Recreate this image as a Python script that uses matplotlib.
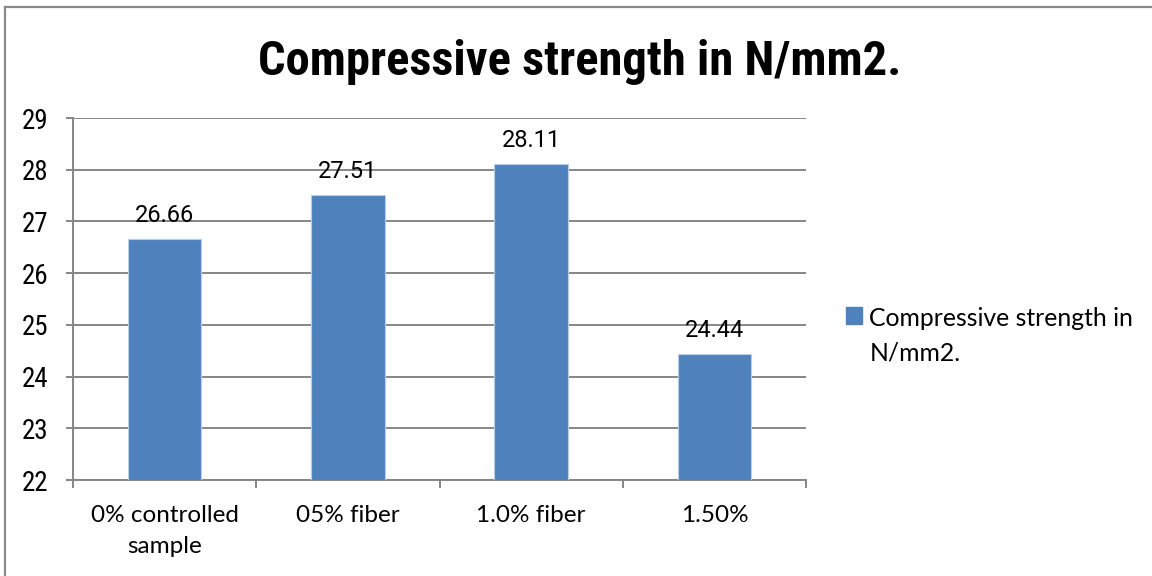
import matplotlib
matplotlib.use("Agg")
import matplotlib.pyplot as plt
from matplotlib.patches import Patch
from matplotlib.lines import Line2D
from matplotlib import font_manager as fm

categories = ["0% controlled\nsample", "05% fiber", "1.0% fiber", "1.50%"]
values = [26.66, 27.51, 28.11, 24.44]
series_name = "Compressive strength in\nN/mm2."
title = "Compressive strength in N/mm2."
y_ticks = [22, 23, 24, 25, 26, 27, 28, 29]

names = {f.name for f in fm.fontManager.ttflist}
narrow = next((n for n in ["Liberation Sans Narrow", "Roboto Condensed", "DejaVu Sans Condensed"]
               if n in names), "DejaVu Sans")
num_font = "Roboto"
text_font = "Lato"

W, H = 1152, 576
fig = plt.figure(figsize=(W / 100, H / 100), dpi=100)
fig.patch.set_facecolor("white")

# outer chart border (top and left only visible)
fig.lines.append(Line2D([5 / W, 5 / W], [0, 1 - 7 / H], transform=fig.transFigure,
                        color="#8a8a8a", linewidth=1.6))
fig.lines.append(Line2D([5 / W, 1], [1 - 7 / H, 1 - 7 / H], transform=fig.transFigure,
                        color="#8a8a8a", linewidth=1.6))

ax = fig.add_axes([73 / W, (H - 480) / H, (806 - 73) / W, (480 - 118) / H])
x = list(range(len(categories)))
bars = ax.bar(x, values, width=0.4, color="#4F81BD", edgecolor="#B9CDE5",
              linewidth=0.8, zorder=3, label=series_name)
ax.set_xlim(-0.5, len(categories) - 0.5)
ax.set_ylim(22, 29)
ax.set_yticks(y_ticks)
ax.set_yticklabels([str(t) for t in y_ticks], fontfamily=narrow, fontsize=19.5)
ax.yaxis.grid(True, color="#868686", linewidth=1.4, zorder=0)
ax.set_axisbelow(True)
for s in ["top", "right"]:
    ax.spines[s].set_visible(False)
for s in ["left", "bottom"]:
    ax.spines[s].set_color("#868686")
    ax.spines[s].set_linewidth(1.4)
ax.tick_params(axis="y", length=5, width=1.4, color="#868686", pad=13)

ax.set_xticks(x)
ax.set_xticklabels(categories, fontfamily=text_font, fontsize=17.5, linespacing=1.6)
ax.set_xticks([i - 0.5 for i in range(len(categories) + 1)], minor=True)
ax.tick_params(axis="x", which="major", length=0, pad=18)
ax.tick_params(axis="x", which="minor", length=6, width=1.4, color="#868686")

for b, v in zip(bars, values):
    ax.annotate(f"{v:.2f}", (b.get_x() + b.get_width() / 2, v),
                xytext=(0, 12.2), textcoords="offset points",
                ha="center", va="baseline", fontfamily=num_font, fontsize=17)

fig.text(580 / W, 1 - 75 / H, title, ha="center", va="baseline",
         fontfamily=narrow, fontweight="bold", fontsize=35)

handle = Patch(facecolor="#4F81BD", edgecolor="#4F81BD")
leg = fig.legend([handle], [series_name], loc="upper left",
                 bbox_to_anchor=(846 / W, 1 - 307 / H), frameon=False,
                 prop={"family": text_font, "size": 17.8},
                 handlelength=0.65, handleheight=0.65, handletextpad=0.3,
                 borderpad=0, borderaxespad=0)
for t in leg.get_texts():
    t.set_linespacing(1.6)
# align the marker with the first line of the label
try:
    for col in leg._legend_handle_box.get_children():
        for item in col.get_children():
            item.align = "top"
except Exception:
    pass

fig.savefig("out.png", dpi=100, facecolor="white")
